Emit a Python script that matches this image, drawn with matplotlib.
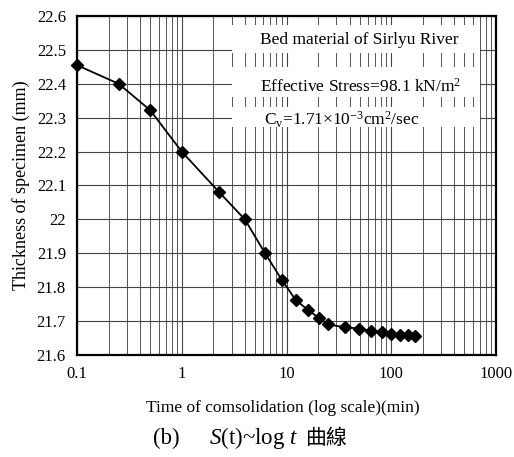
import matplotlib
matplotlib.use("Agg")
import matplotlib.pyplot as plt
from matplotlib.patches import Rectangle

# datos
tiempo_min = [0.1, 0.25, 0.5, 1, 2.25, 4, 6.25, 9, 12.25, 16, 20.25, 25,
              36, 49, 64, 81, 100, 121, 144, 169]
espesor_mm = [22.455, 22.40, 22.322, 22.20, 22.082, 22.0, 21.90, 21.822,
              21.762, 21.733, 21.71, 21.69, 21.682, 21.678, 21.672,
              21.667, 21.662, 21.66, 21.658, 21.655]

x_ticks = [0.1, 1, 10, 100, 1000]
x_tick_labels = ["0.1", "1", "10", "100", "1000"]
y_ticks = [21.6, 21.7, 21.8, 21.9, 22.0, 22.1, 22.2, 22.3, 22.4, 22.5, 22.6]
y_tick_labels = ["21.6", "21.7", "21.8", "21.9", "22", "22.1", "22.2",
                 "22.3", "22.4", "22.5", "22.6"]

plt.rcParams["font.family"] = ["Liberation Serif", "DejaVu Serif"]
plt.rcParams["mathtext.fontset"] = "custom"
plt.rcParams["mathtext.rm"] = "Liberation Serif"
plt.rcParams["mathtext.it"] = "Liberation Serif:italic"

W, H = 514, 457
fig = plt.figure(figsize=(W / 100, H / 100), dpi=100)
ax = fig.add_axes([0.1498, 0.2232, 0.8152, 0.7418])

ax.set_xscale("log")
ax.set_xlim(0.1, 1000)
ax.set_ylim(21.6, 22.6)
ax.set_xticks(x_ticks)
ax.set_xticklabels(x_tick_labels)
ax.set_yticks(y_ticks)
ax.set_yticklabels(y_tick_labels)
ax.tick_params(which="both", length=0, labelsize=12, pad=8)

# rejilla
ax.grid(True, which="major", color="#444444", linewidth=0.8)
ax.grid(True, which="minor", axis="x", color="#555555", linewidth=0.7)
ax.set_axisbelow(True)

for s in ax.spines.values():
    s.set_linewidth(1.6)
    s.set_color("black")

ax.plot(tiempo_min, espesor_mm, color="black", linewidth=1.3,
        marker="D", markersize=6.3, zorder=5, clip_on=False)

# cajas blancas detras de los textos (y0, y1 en coords del eje)
cajas = [(0.891, 0.973), (0.761, 0.850), (0.673, 0.732)]
for y0, y1 in cajas:
    ax.add_patch(Rectangle((0.370, y0), 0.592, y1 - y0, transform=ax.transAxes,
                           facecolor="white", edgecolor="none", zorder=3))

ax.text(0.437, 0.929, "Bed material of Sirlyu River", transform=ax.transAxes,
        fontsize=12.5, va="center", zorder=4)
ax.text(0.437, 0.792, r"Effective Stress=98.1 kN/m$^{\mathregular{2}}$",
        transform=ax.transAxes, fontsize=12.5, va="center", zorder=4)
ax.text(0.447, 0.693,
        r"C$_{\mathregular{v}}$=1.71×10$^{\mathregular{-3}}$cm$^{\mathregular{2}}$/sec",
        transform=ax.transAxes, fontsize=12.5, va="center", zorder=4)

ax.set_ylabel("Thickness of specimen (mm)", fontsize=13, labelpad=5)
fig.text(0.55, 0.107, "Time of comsolidation (log scale)(min)",
         ha="center", va="center", fontsize=12.5)

# pie de figura: partes latinas y chinas por separado
yc = 1 - 438 / H
fig.text(153 / W, yc, "(b)", ha="left", va="center", fontsize=16.5)
fig.text(209 / W, yc, "$S$(t)~log $t$", ha="left", va="center", fontsize=16.5)
fig.text(306 / W, yc, "曲線", ha="left", va="center", fontsize=15,
         family=["Noto Sans CJK TC", "DejaVu Sans"])

fig.savefig("out.png", dpi=100)
